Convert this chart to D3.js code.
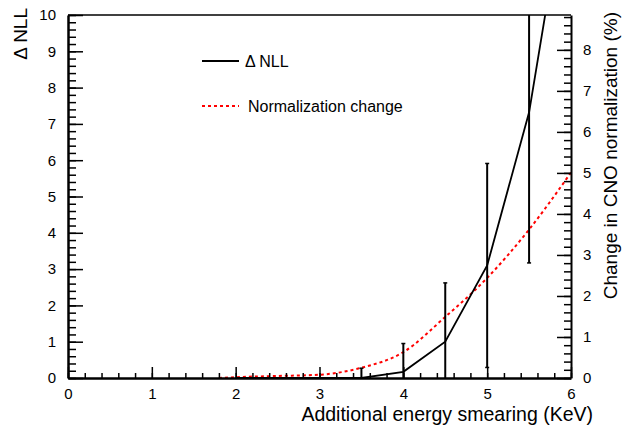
<!DOCTYPE html>
<html>
<head>
<meta charset="utf-8">
<script src="https://cdn.jsdelivr.net/npm/d3@7"></script>
<style>
  body { margin: 0; background: #fff; }
  svg { display: block; font-family: "Liberation Sans", Arial, sans-serif; }
</style>
</head>
<body>
<svg id="chart" width="622" height="433"></svg>
<script>
// ---- data ----
const nllX     = [2.0, 2.5, 3.0, 3.5, 4.0, 4.5, 5.0, 5.5, 6.0];
const nllY     = [0.0, 0.0, 0.0, 0.0, 0.17, 1.0, 3.1, 7.32, 14.3];
const nllErr   = [0.0, 0.0, 0.0, 0.27, 0.78, 1.62, 2.81, 4.15, 0.0];
const normX    = [1.8, 2.0, 2.5, 3.0, 3.5, 4.0, 4.5, 5.0, 5.5, 6.0];
const normY    = [0.0, 0.02, 0.05, 0.08, 0.25, 0.63, 1.49, 2.44, 3.62, 5.01];
const xTicks   = [0, 1, 2, 3, 4, 5, 6];
const yLTicks  = [0, 1, 2, 3, 4, 5, 6, 7, 8, 9, 10];
const yRTicks  = [0, 1, 2, 3, 4, 5, 6, 7, 8];
const legendLabels = ["\u0394 NLL", "Normalization change"];

const svg = d3.select("#chart");
const L = 68, R = 571, T = 15, B = 378;

const x  = d3.scaleLinear().domain([0, 6]).range([L, R]);
const yL = d3.scaleLinear().domain([0, 10]).range([B, T]);
const yR = d3.scaleLinear().domain([0, 8.85]).range([B, T]);

const minor = (lo, hi, step) => d3.range(Math.round((hi - lo) / step) + 1).map(i => +(lo + i * step).toFixed(4));

// clip
svg.append("defs").append("clipPath").attr("id", "clip")
  .append("rect").attr("x", L).attr("y", T).attr("width", R - L).attr("height", B - T);

const plot = svg.append("g").attr("clip-path", "url(#clip)");

// red dashed normalization curve
const normData = normX.map((v, i) => [v, normY[i]]);
plot.append("path")
  .datum(normData)
  .attr("fill", "none")
  .attr("stroke", "#ff0000")
  .attr("stroke-width", 2)
  .attr("stroke-dasharray", "3,3")
  .attr("d", d3.line().x(d => x(d[0])).y(d => yR(d[1])).curve(d3.curveMonotoneX));

// black NLL line
const nllData = nllX.map((v, i) => ({ x: v, y: nllY[i], e: nllErr[i] }));
plot.append("path")
  .datum(nllData)
  .attr("fill", "none")
  .attr("stroke", "#000")
  .attr("stroke-width", 1.8)
  .attr("d", d3.line().x(d => x(d.x)).y(d => yL(d.y)));

// error bars
const eb = plot.selectAll("g.eb").data(nllData.filter(d => d.e > 0)).enter().append("g");
eb.append("line")
  .attr("x1", d => x(d.x)).attr("x2", d => x(d.x))
  .attr("y1", d => yL(d.y - d.e)).attr("y2", d => yL(d.y + d.e))
  .attr("stroke", "#000").attr("stroke-width", 2);
eb.append("line")
  .attr("x1", d => x(d.x) - 2).attr("x2", d => x(d.x) + 2)
  .attr("y1", d => yL(d.y + d.e)).attr("y2", d => yL(d.y + d.e))
  .attr("stroke", "#000").attr("stroke-width", 1.5);
eb.append("line")
  .attr("x1", d => x(d.x) - 2).attr("x2", d => x(d.x) + 2)
  .attr("y1", d => yL(d.y - d.e)).attr("y2", d => yL(d.y - d.e))
  .attr("stroke", "#000").attr("stroke-width", 1.5);

// top frame
svg.append("line").attr("x1", L).attr("x2", R).attr("y1", T).attr("y2", T)
  .attr("stroke", "#000").attr("stroke-width", 1.5);

function styleAxis(g, w) {
  g.select(".domain").attr("stroke-width", w);
  g.selectAll(".tick line").attr("stroke-width", 1.5);
  g.selectAll("text").attr("font-size", 15).attr("fill", "#000")
    .attr("font-family", "Liberation Sans, Arial, sans-serif");
}

// x axis
svg.append("g").attr("transform", `translate(0,${B})`)
  .call(d3.axisBottom(x).tickValues(minor(0, 6, 0.2)).tickSize(-5).tickSizeOuter(0).tickFormat(""))
  .call(g => g.select(".domain").remove())
  .selectAll(".tick line").attr("stroke-width", 1.5);
svg.append("g").attr("transform", `translate(0,${B})`)
  .call(d3.axisBottom(x).tickValues(xTicks).tickSize(-11).tickSizeOuter(0).tickPadding(10).tickFormat(d3.format("d")))
  .call(g => styleAxis(g, 2.5));

// left axis
svg.append("g").attr("transform", `translate(${L},0)`)
  .call(d3.axisLeft(yL).tickValues(minor(0, 10, 0.2)).tickSize(-8).tickSizeOuter(0).tickFormat(""))
  .call(g => g.select(".domain").remove())
  .selectAll(".tick line").attr("stroke-width", 1.5);
svg.append("g").attr("transform", `translate(${L},0)`)
  .call(d3.axisLeft(yL).tickValues(yLTicks).tickSize(-15).tickSizeOuter(0).tickPadding(12).tickFormat(d3.format("d")))
  .call(g => styleAxis(g, 2.5));

// right axis
svg.append("g").attr("transform", `translate(${R},0)`)
  .call(d3.axisRight(yR).tickValues(minor(0, 8.8, 0.2)).tickSize(-7).tickSizeOuter(0).tickFormat(""))
  .call(g => g.select(".domain").remove())
  .selectAll(".tick line").attr("stroke-width", 1.5);
svg.append("g").attr("transform", `translate(${R},0)`)
  .call(d3.axisRight(yR).tickValues(yRTicks).tickSize(-14).tickSizeOuter(0).tickPadding(12).tickFormat(d3.format("d")))
  .call(g => styleAxis(g, 2));

// axis titles
svg.append("text").attr("x", 593).attr("y", 421).attr("text-anchor", "end")
  .attr("font-size", 19.5).text("Additional energy smearing (KeV)");
svg.append("text").attr("transform", "translate(27,8) rotate(-90)").attr("text-anchor", "end")
  .attr("font-size", 19).text("\u0394 NLL");
svg.append("text").attr("transform", "translate(617,12) rotate(-90)").attr("text-anchor", "end")
  .attr("font-size", 19).text("Change in CNO normalization (%)");

// legend
const leg = svg.append("g");
leg.append("line").attr("x1", 202).attr("x2", 239).attr("y1", 61).attr("y2", 61)
  .attr("stroke", "#000").attr("stroke-width", 1.8);
leg.append("text").attr("x", 245).attr("y", 61).attr("dy", "0.35em").attr("font-size", 16).text(legendLabels[0]);
leg.append("line").attr("x1", 202).attr("x2", 239).attr("y1", 106).attr("y2", 106)
  .attr("stroke", "#ff0000").attr("stroke-width", 2).attr("stroke-dasharray", "3,3");
leg.append("text").attr("x", 248).attr("y", 106).attr("dy", "0.35em").attr("font-size", 16).text(legendLabels[1]);
</script>
</body>
</html>
